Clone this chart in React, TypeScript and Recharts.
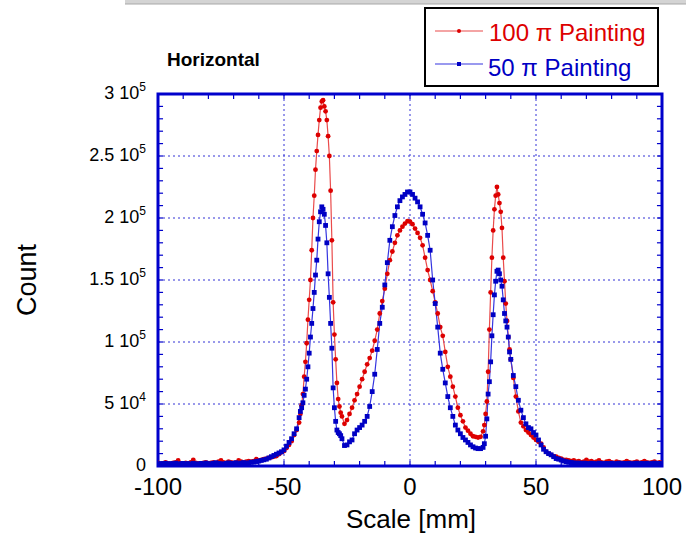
import React from 'react';
import { LineChart, Line, XAxis, YAxis, CartesianGrid, ReferenceArea, ReferenceLine } from 'recharts';

const FONT = '"Liberation Sans", Arial, Helvetica, sans-serif';
const FRAME = '#0000cc';
const GRID = '#3333d6';
const RED = '#dd0000';
const RED_LINE = '#ea4b4b';
const BLUE = '#0000c4';
const BLUE_LINE = '#3535e0';

// scan positions [mm]: 1 mm steps, 0.5 mm across the two side peaks
const steps = (from: number, to: number, step: number) => {
  const out: number[] = [];
  for (let v = from; v <= to + 1e-9; v += step) out.push(Math.round(v * 10) / 10);
  return out;
};
const scaleMm = [
  ...steps(-100, -44, 1),
  ...steps(-43.5, -27.5, 0.5),
  ...steps(-27, 29, 1),
  ...steps(29.5, 39.5, 0.5),
  ...steps(40, 100, 1),
];

// counts, in units of 10^3
const painting100 = [
  // -100 .. -44
  2.5, 1.5, 2, 3, 2, 1.5, 2.5, 3, 4.5, 2,
  1.5, 2.5, 2, 3, 5, 2.5, 2, 1.5, 2.5, 3,
  2, 2.5, 3, 2.5, 3.5, 4.5, 3, 2.5, 3.5, 3,
  2.5, 3, 4.5, 3.5, 3, 3.5, 4, 3.5, 4, 5.5,
  4.5, 5, 5.5, 6, 6.5, 7, 7.5, 8, 9.5, 11,
  12, 14.5, 17, 20, 25, 29, 35,
  // -43.5 .. -27.5
  42, 49, 58, 72, 84, 99, 118, 134, 150, 174,
  200, 218, 239, 254, 267, 279, 289, 294, 295, 290,
  286, 279, 266, 250, 222, 182, 132, 106, 86, 67,
  54, 48, 43,
  // -27 .. 29
  40, 34, 37, 42, 47, 53, 58, 64, 70, 76,
  82, 87, 93, 101, 110, 123, 133, 143, 155, 166,
  173, 180, 186, 190, 193, 195.5, 197.5, 197, 195, 191.5,
  188, 184, 178, 168, 158, 150, 141, 132, 123, 112,
  105, 92, 80, 72, 64, 56, 47, 41, 36, 31,
  28.5, 26, 24, 23.5, 23, 23.5, 28,
  // 29.5 .. 39.5
  33, 42, 52, 76, 110, 140, 168, 190, 207, 218,
  225, 219, 212, 205, 192, 168, 149, 131, 117, 104,
  94,
  // 40 .. 100
  86, 71, 56, 44, 35, 32, 29, 27, 25, 23,
  21, 19.5, 18, 15, 11.5, 10, 9, 8, 7.5, 6.5,
  6, 5, 5, 4.5, 4, 4.5, 3.5, 4, 3, 3.5,
  5, 3.5, 4, 3, 3.5, 4.5, 3, 2.5, 3.5, 4,
  3, 2.5, 3.5, 3, 2.5, 3, 4, 3, 2.5, 3,
  3.5, 2.5, 3, 4, 3, 2.5, 3, 3.5, 2.5, 3,
  2.5,
];

const painting50 = [
  // -100 .. -44
  1.5, 2, 1.8, 2.2, 1.4, 2, 1.7, 2.3, 1.5, 1.9,
  2.1, 1.6, 2, 1.4, 2.2, 1.8, 1.5, 2.1, 1.7, 2.4,
  1.9, 1.6, 2.2, 2.6, 2, 1.8, 1.5, 2.1, 2.5, 2,
  2.2, 2.6, 1.9, 2.4, 2.7, 2.2, 2.6, 3, 3.2, 3.6,
  4, 4.5, 5, 5.5, 6.5, 7.5, 8.5, 9.5, 10.5, 11.5,
  13, 16, 19, 22, 26, 30, 39,
  // -43.5 .. -27.5
  44, 47, 51, 57, 62, 70, 80, 91, 104, 115,
  127, 140, 154, 166, 183, 197, 205, 209, 207, 203,
  194, 180, 155, 136, 115, 95, 63, 47, 36, 29,
  27, 26, 24.5,
  // -27 .. 29
  22, 16.5, 17, 19.5, 21, 26, 29, 31, 33, 36,
  40, 48, 60, 74, 94, 115, 128, 146, 164, 182,
  193, 202, 209, 214, 217, 219, 221, 221, 219, 216,
  213, 209, 203, 196, 186, 174, 150, 131, 112, 91,
  78, 67, 56, 47, 40, 33, 29, 26, 23, 21,
  19, 17, 15.5, 14.5, 14, 14, 15,
  // 29.5 .. 39.5
  18, 24, 38, 58, 68, 84, 105, 122, 138, 149,
  157, 158, 155, 150, 145, 134, 123, 117, 112, 104,
  92,
  // 40 .. 100
  86, 73, 64, 53, 45, 39, 34, 31, 30, 27,
  25, 21, 17, 13.5, 11.5, 10, 9, 7.5, 6, 5.5,
  4.8, 4, 3.5, 3, 2.8, 2.5, 2.2, 2.4, 2, 2.3,
  2.1, 1.8, 2.2, 2, 1.7, 2.3, 2, 1.8, 2.1, 1.9,
  2.2, 1.7, 2, 2.3, 1.8, 2.1, 1.9, 2.2, 1.6, 2,
  2.3, 1.8, 2.1, 1.9, 2.2, 1.7, 2, 2.3, 1.9, 2.1,
  1.8,
];

const rows = scaleMm.map((mm, i) => ({
  mm,
  p100: painting100[i] * 1000,
  p50: painting50[i] * 1000,
}));

const X_MIN = -100;
const X_MAX = 100;
const Y_MAX = 300000;
const xLabelTicks = [-100, -50, 0, 50, 100];
const yLabelTicks = [0, 50000, 100000, 150000, 200000, 250000, 300000];
const xMinorTicks = steps(-90, 90, 10);
const yMinorTicks = steps(10000, 290000, 10000);
const yLabels: Record<number, [string, string]> = {
  0: ['0', ''],
  50000: ['5 10', '4'],
  100000: ['1 10', '5'],
  150000: ['1.5 10', '5'],
  200000: ['2 10', '5'],
  250000: ['2.5 10', '5'],
  300000: ['3 10', '5'],
};
// inward tick length, in axis units (about 5 px)
const X_TICK = 2;
const Y_TICK = 4000;

function XTick({ x, y, payload }: any) {
  return (
    <text x={x} y={y + 29} textAnchor="middle" fontSize={24} fontFamily={FONT} fill="#000">
      {payload.value}
    </text>
  );
}

function YTick({ x, y, payload }: any) {
  const lab = yLabels[payload.value];
  if (!lab) return <g />;
  return (
    <text x={x - 12} y={y + 5} textAnchor="end" fontSize={18} fontFamily={FONT} fill="#000">
      {lab[0]}
      {lab[1] && (
        <tspan dy={-8} fontSize={12}>
          {lab[1]}
        </tspan>
      )}
    </text>
  );
}

function RedDot({ cx, cy }: any) {
  if (cx == null || cy == null) return <g />;
  return <circle cx={cx} cy={cy} r={2.4} fill={RED} stroke="none" />;
}

function BlueDot({ cx, cy }: any) {
  if (cx == null || cy == null) return <g />;
  return <rect x={cx - 2.4} y={cy - 2.4} width={4.8} height={4.8} fill={BLUE} stroke="none" />;
}

function Overlay() {
  return (
    <svg
      width={686}
      height={535}
      style={{ position: 'absolute', left: 0, top: 0, pointerEvents: 'none' }}
      fontFamily={FONT}
    >
      <rect x={125} y={0} width={561} height={4} fill="#d4d4d4" />
      <line x1={125} y1={4} x2={686} y2={4} stroke="#a8a8a8" strokeWidth={1} />
      <text x={167} y={66} fontSize={19} fontWeight="bold" fill="#000">
        Horizontal
      </text>
      <text x={36} y={280} fontSize={27} fill="#000" textAnchor="middle" transform="rotate(-90 36 280)">
        Count
      </text>
      <text x={411} y={528} fontSize={26} fill="#000" textAnchor="middle">
        Scale [mm]
      </text>
      <rect x={425} y={8} width={233} height={78} fill="#fff" stroke="#000" strokeWidth={2} />
      <line x1={435} y1={31} x2={483} y2={31} stroke={RED_LINE} strokeWidth={1.2} />
      <circle cx={459} cy={31} r={2} fill={RED} />
      <text x={489} y={41} fontSize={24} fill={RED}>
        100 π Painting
      </text>
      <line x1={435} y1={64} x2={483} y2={64} stroke={BLUE_LINE} strokeWidth={1.2} />
      <rect x={457} y={62} width={4} height={4} fill={BLUE} />
      <text x={488} y={76} fontSize={24} fill={BLUE}>
        50 π Painting
      </text>
    </svg>
  );
}

export default function App() {
  const tickStyle = { stroke: FRAME, strokeWidth: 1.2 };
  return (
    <div style={{ position: 'absolute', left: 0, top: 0, width: 686, height: 535, background: '#fff' }}>
      <LineChart width={686} height={535} data={rows} margin={{ top: 94, right: 24, bottom: 0, left: 0 }}>
        <CartesianGrid
          xAxisId="x"
          yAxisId="y"
          verticalValues={[-50, 0, 50]}
          horizontalValues={[50000, 100000, 150000, 200000, 250000]}
          stroke={GRID}
          strokeDasharray="2 3"
          strokeWidth={1}
        />
        <XAxis
          xAxisId="x"
          dataKey="mm"
          type="number"
          domain={[X_MIN, X_MAX]}
          ticks={xLabelTicks}
          interval={0}
          allowDataOverflow
          height={69}
          tickSize={0}
          tickMargin={0}
          tickLine={false}
          axisLine={false}
          tick={<XTick />}
        />
        <YAxis
          yAxisId="y"
          type="number"
          domain={[0, Y_MAX]}
          ticks={yLabelTicks}
          interval={0}
          allowDataOverflow
          width={158}
          tickSize={0}
          tickMargin={0}
          tickLine={false}
          axisLine={false}
          tick={<YTick />}
        />
        {xMinorTicks.map((v) => (
          <ReferenceLine
            key={`xb${v}`}
            xAxisId="x"
            yAxisId="y"
            segment={[{ x: v, y: 0 }, { x: v, y: Y_TICK }]}
            {...tickStyle}
          />
        ))}
        {xMinorTicks.map((v) => (
          <ReferenceLine
            key={`xt${v}`}
            xAxisId="x"
            yAxisId="y"
            segment={[{ x: v, y: Y_MAX }, { x: v, y: Y_MAX - Y_TICK }]}
            {...tickStyle}
          />
        ))}
        {yMinorTicks.map((v) => (
          <ReferenceLine
            key={`yl${v}`}
            xAxisId="x"
            yAxisId="y"
            segment={[{ x: X_MIN, y: v }, { x: X_MIN + X_TICK, y: v }]}
            {...tickStyle}
          />
        ))}
        {yMinorTicks.map((v) => (
          <ReferenceLine
            key={`yr${v}`}
            xAxisId="x"
            yAxisId="y"
            segment={[{ x: X_MAX, y: v }, { x: X_MAX - X_TICK, y: v }]}
            {...tickStyle}
          />
        ))}
        <ReferenceArea
          xAxisId="x"
          yAxisId="y"
          x1={X_MIN}
          x2={X_MAX}
          y1={0}
          y2={Y_MAX}
          fill="none"
          stroke={FRAME}
          strokeWidth={3}
          ifOverflow="visible"
        />
        <Line
          xAxisId="x"
          yAxisId="y"
          type="linear"
          dataKey="p100"
          stroke={RED_LINE}
          strokeWidth={1.2}
          dot={<RedDot />}
          activeDot={false}
          isAnimationActive={false}
        />
        <Line
          xAxisId="x"
          yAxisId="y"
          type="linear"
          dataKey="p50"
          stroke={BLUE_LINE}
          strokeWidth={1.2}
          dot={<BlueDot />}
          activeDot={false}
          isAnimationActive={false}
        />
      </LineChart>
      <Overlay />
    </div>
  );
}
